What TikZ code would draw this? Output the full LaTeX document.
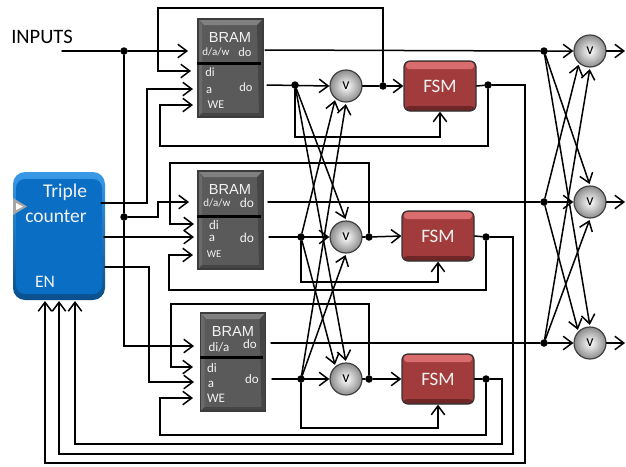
\documentclass[tikz,border=0pt]{standalone}
\usepackage{fontspec}
\setmainfont{Carlito}
\newfontfamily\bramfont{Liberation Sans}
\usetikzlibrary{arrows.meta,calc}
\definecolor{brambase}{HTML}{5A5A5A}
\definecolor{bramedge}{HTML}{3C3C3C}
\definecolor{bramhigh}{HTML}{808080}
\definecolor{bramside}{HTML}{6A6A6A}
\definecolor{bramlow}{HTML}{454545}
\definecolor{countmain}{HTML}{0A6EC4}
\definecolor{counthigh}{HTML}{3A9AE8}
\definecolor{countlow}{HTML}{0A4F8C}
\definecolor{fsmmain}{HTML}{A23C3C}
\definecolor{fsmhigh}{HTML}{D96C6C}
\definecolor{fsmlow}{HTML}{6E2626}
\definecolor{labelwhite}{HTML}{F2F2F2}
\tikzset{
	bram/.style={rectangle,draw=bramedge,line width=1.2pt,fill=brambase,minimum width=65pt,minimum height=98pt,
		path picture={
			\fill[bramhigh] (path picture bounding box.north west) -- (path picture bounding box.north east) -- ++(-6pt,-6pt) -- ([shift={(6pt,-6pt)}]path picture bounding box.north west) -- cycle;
			\fill[bramside] (path picture bounding box.north west) -- (path picture bounding box.south west) -- ++(4pt,4pt) -- ([shift={(4pt,-6pt)}]path picture bounding box.north west) -- cycle;
			\fill[bramlow] (path picture bounding box.north east) -- (path picture bounding box.south east) -- ++(-4pt,4pt) -- ([shift={(-6pt,-6pt)}]path picture bounding box.north east) -- cycle;
			\fill[bramlow] (path picture bounding box.south west) -- (path picture bounding box.south east) -- ++(-4pt,4pt) -- ([shift={(4pt,4pt)}]path picture bounding box.south west) -- cycle;
		}},
	counterbox/.style={rectangle,rounded corners=12pt,top color=counthigh,bottom color=countlow,minimum width=92pt,minimum height=128pt,
		path picture={
			\fill[countmain,rounded corners=9pt] ([shift={(3pt,-7pt)}]path picture bounding box.north west) rectangle ([shift={(-3pt,6pt)}]path picture bounding box.south east);
		}},
	fsmbox/.style={rectangle,rounded corners=6pt,draw=black!80,line width=1.2pt,fill=fsmmain,minimum width=72pt,minimum height=50pt,text=labelwhite,font=\fontsize{19}{21}\selectfont,
		path picture={
			\fill[fsmhigh,rounded corners=3pt] ([shift={(2pt,-1pt)}]path picture bounding box.north west) rectangle ([shift={(-2pt,-8pt)}]path picture bounding box.north east);
			\fill[fsmlow] ([yshift=5pt]path picture bounding box.south west) rectangle (path picture bounding box.south east);
		}},
	vote/.style={circle,draw=black!75,line width=1.2pt,inner color=white,outer color=black!45,minimum size=32pt,inner sep=0pt,font=\fontsize{16}{18}\selectfont},
	dot/.style={circle,fill=black,inner sep=0pt,minimum size=7.5pt},
	bigword/.style={inner sep=0pt,text=labelwhite,font=\fontsize{19.5}{22}\selectfont},
	bramword/.style={inner sep=0pt,text=labelwhite,font=\bramfont\fontsize{14.6}{16}\selectfont},
	portword/.style={inner sep=0pt,text=labelwhite,font=\fontsize{12.5}{14}\selectfont},
	wire/.style={line width=1.5pt},
	into/.style={wire,->,shorten >=1.5pt},
	>={Straight Barb[length=9pt,width=13.5pt,line width=1.5pt]}
}
\begin{document}
\begin{tikzpicture}[x=1pt,y=-1pt,line cap=round,line join=miter]
	\useasboundingbox (0,0) rectangle (626,466);
	% blocks
	\node[counterbox] (counter) at (59,236) {};
	\node[bram] (brama) at (230.5,68) {};
	\node[bram] (bramb) at (230.5,220) {};
	\node[bram] (bramc) at (233,362) {};
	\node[fsmbox] (fsma) at (440,86) {FSM};
	\node[fsmbox] (fsmb) at (438,236) {FSM};
	\node[fsmbox] (fsmc) at (438,379) {FSM};
	\node[vote] (votea) at (346,86) {v};
	\node[vote] (voteb) at (346,237) {v};
	\node[vote] (votec) at (346,379) {v};
	\node[vote] (outa) at (590,51) {v};
	\node[vote] (outb) at (590,202) {v};
	\node[vote] (outc) at (590,343) {v};
	% separators
	\draw[line width=3pt,line cap=butt] (brama.west |- 0,63) -- ([xshift=-3pt]brama.east |- 0,63);
	\draw[line width=3pt,line cap=butt] (bramb.west |- 0,216) -- ([xshift=-3pt]bramb.east |- 0,216);
	\draw[line width=3pt,line cap=butt] (bramc.west |- 0,357) -- ([xshift=-3pt]bramc.east |- 0,357);
	% counter labels
	\node[bigword] (cnttriple) at (65,192) {Triple};
	\node[bigword] (cntword) at (56,216) {counter};
	\node[bigword,font=\fontsize{17.5}{20}\selectfont] (cnten) at (45,282) {EN};
	\fill[black!35] (13,198) -- (27,206.5) -- (13,215) -- cycle;
	\fill[white] (16,203) -- (23,206.5) -- (16,210) -- cycle;
	\node[inner sep=0pt,font=\fontsize{20.5}{23}\selectfont] (inputs) at (42,37) {INPUTS};
	% bram labels
	\node[bramword] (labela) at (230,37) {BRAM};
	\node[portword,font=\fontsize{11}{13}\selectfont] (dawa) at (216,52) {d/a/w};
	\node[portword] (doua) at (245,52) {do};
	\node[portword] (dia) at (210,72) {di};
	\node[portword] (adra) at (209,91) {a};
	\node[portword] (dola) at (246,87) {do};
	\node[portword,font=\fontsize{12}{14}\selectfont] (wea) at (216,105) {WE};
	\node[bramword] (labelb) at (230,189) {BRAM};
	\node[portword,font=\fontsize{11}{13}\selectfont] (dawb) at (217,203) {d/a/w};
	\node[portword,font=\fontsize{13.5}{15}\selectfont] (doub) at (247,203) {do};
	\node[portword,font=\fontsize{13}{15}\selectfont] (dib) at (214,225) {di};
	\node[portword,font=\fontsize{13}{15}\selectfont] (adrb) at (212,238) {a};
	\node[portword,font=\fontsize{13.5}{15}\selectfont] (dolb) at (247,238) {do};
	\node[portword,font=\fontsize{10.5}{12}\selectfont] (web) at (214,254) {WE};
	\node[bramword] (labelc) at (233,331) {BRAM};
	\node[portword,font=\fontsize{13}{15}\selectfont] (dac) at (219,347) {di/a};
	\node[portword,font=\fontsize{13}{15}\selectfont] (douc) at (250,344) {do};
	\node[portword,font=\fontsize{13}{15}\selectfont] (dic) at (212,368) {di};
	\node[portword,font=\fontsize{13}{15}\selectfont] (adrc) at (211,384) {a};
	\node[portword,font=\fontsize{13}{15}\selectfont] (dolc) at (252,379) {do};
	\node[portword,font=\fontsize{13}{15}\selectfont] (wec) at (216,398) {WE};
	% taps
	\node[dot] (dotin) at (124,51) {};
	\node[dot] (dotcnt) at (124,217) {};
	\node[dot] (dota) at (295,85) {};
	\node[dot] (dotb) at (301,237) {};
	\node[dot] (dotc) at (301,379) {};
	\node[dot] (dotva) at (383,86) {};
	\node[dot] (dotvb) at (369,237) {};
	\node[dot] (dotvc) at (369,379) {};
	\node[dot] (dotfa) at (488,85) {};
	\node[dot] (dotfb) at (486,237) {};
	\node[dot] (dotfc) at (486,379) {};
	\node[dot] (dotra) at (544,51) {};
	\node[dot] (dotrb) at (544,202) {};
	\node[dot] (dotrc) at (544,343) {};
	% free ends
	\coordinate (inleft) at (62,51);
	\coordinate (wordia) at (188,51);
	\coordinate (pdia) at (191,71);
	\coordinate (padra) at (193,89);
	\coordinate (pwea) at (193,105);
	\coordinate (pdawb) at (189,202);
	\coordinate (pdib) at (194,224);
	\coordinate (padrb) at (194,237);
	\coordinate (pweb) at (193,255);
	\coordinate (pdac) at (194,346);
	\coordinate (pdic) at (193,367);
	\coordinate (padrc) at (194,382);
	\coordinate (pwec) at (193,398);
	\coordinate (cnttop) at (101,203);
	\coordinate (cntmid) at (104,237);
	\coordinate (cntlow) at (105,267);
	\coordinate (doa) at (265,50);
	\coordinate (dob) at (268,202);
	\coordinate (doc) at (271,343);
	\coordinate (dla) at (267,85);
	\coordinate (dlb) at (269,237);
	\coordinate (dlc) at (272,379);
	\coordinate (enda) at (625,51);
	\coordinate (endb) at (625,202);
	\coordinate (endc) at (625,343);
	% inputs and counter
	\draw[wire,->] (inleft) -- (dotin) -- (wordia);
	\draw[wire] (dotin) -- (dotcnt);
	\draw[wire,->] (dotcnt) -- (124,346) -- (pdac);
	\draw[wire,->] (dotcnt) -- (158,217) |- (pdawb);
	\draw[wire,->] (cnttop) -- (147,203) |- (padra);
	\draw[wire,->] (cntmid) -- (padrb);
	\draw[wire,->] (cntlow) -- (149,267) |- (padrc);
	% first row
	\draw[wire,->] (dla) -- (votea.west);
	\draw[wire] (votea.east) -- (dotva);
	\draw[wire,->] (dotva) -- (fsma.west);
	\draw[wire,->] (dotva) |- (158,8) |- (pdia);
	\draw[wire] (fsma.east) -- (dotfa);
	\draw[wire,->] (dotfa) |- (160,146) |- (pwea);
	\draw[wire,->] (dota) |- (440,137) -- (fsma.south);
	\draw[wire,->] (dotfa) -| (525,463) -| (45,301);
	% second row
	\draw[wire,->] (dlb) -- (voteb.west);
	\draw[wire] (voteb.east) -- (dotvb);
	\draw[wire,->] (dotvb) -- (fsmb.west);
	\draw[wire,->] (dotvb) |- (170,163) |- (pdib);
	\draw[wire] (fsmb.east) -- (dotfb);
	\draw[wire,->] (dotfb) |- (169,290) |- (pweb);
	\draw[wire,->] (dotb) |- (438,282) -- (fsmb.south);
	\draw[wire,->] (dotfb) -| (513,454) -| (59,301);
	% third row
	\draw[wire,->] (dlc) -- (votec.west);
	\draw[wire] (votec.east) -- (dotvc);
	\draw[wire,->] (dotvc) -- (fsmc.west);
	\draw[wire,->] (dotvc) |- (171,304) |- (pdic);
	\draw[wire] (fsmc.east) -- (dotfc);
	\draw[wire,->] (dotfc) |- (160,435) |- (pwec);
	\draw[wire,->] (dotc) |- (438,428) -- (fsmc.south);
	\draw[wire,->] (dotfc) -| (502,444) -| (75,301);
	% voter crossings
	\draw[into] (dota) -- (voteb.north);
	\draw[into] (dota) -- (votec.north);
	\draw[into] (dotb) -- (votea.230);
	\draw[into] (dotb) -- (votec.130);
	\draw[into] (dotc) -- (votea.south);
	\draw[into] (dotc) -- (voteb.south);
	% outputs
	\draw[wire,->] (doa) -- (dotra) -- (outa.west);
	\draw[wire,->] (dob) -- (dotrb) -- (outb.west);
	\draw[wire,->] (doc) -- (dotrc) -- (outc.west);
	\draw[wire,->] (outa.east) -- (enda);
	\draw[wire,->] (outb.east) -- (endb);
	\draw[wire,->] (outc.east) -- (endc);
	\draw[into] (dotra) -- (outb.north);
	\draw[into] (dotra) -- (outc.north);
	\draw[into] (dotrb) -- (outa.228);
	\draw[into] (dotrb) -- (outc.135);
	\draw[into] (dotrc) -- (outa.south);
	\draw[into] (dotrc) -- (outb.south);
\end{tikzpicture}
\end{document}
